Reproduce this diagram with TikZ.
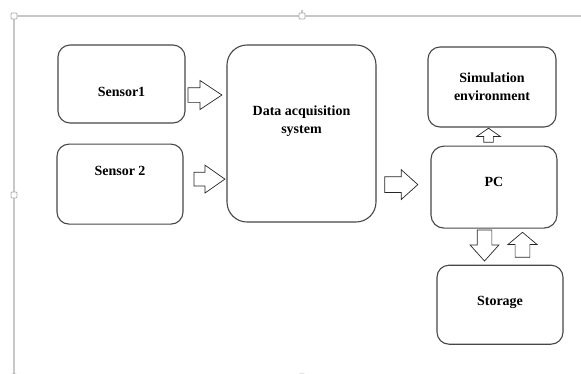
\documentclass[tikz,border=0pt]{standalone}
\usepackage{fontspec}
\setmainfont{Liberation Serif}
\usetikzlibrary{positioning, shapes.arrows}

\tikzset{
	box/.style={draw=black!72, line width=1.1pt, rounded corners=12pt, fill=white,
		minimum width=126pt, minimum height=79pt, inner sep=0pt},
	lbl/.style={font=\fontsize{14}{18}\selectfont\bfseries, align=center},
	blockarrow/.style={single arrow, draw=black!85, line width=0.7pt, fill=white,
		inner xsep=0pt, inner ysep=7pt, anchor=tail},
	frame/.style={draw=black!22, line width=1.2pt},
	handle/.style={draw=black!32, fill=white, line width=0.9pt, minimum size=6pt,
		inner sep=0pt, rounded corners=1pt}
}

\begin{document}
\begin{tikzpicture}[x=1pt, y=-1pt]
	\useasboundingbox (0,0) rectangle (581,373);

	% page frame
	\draw[frame] (14,380) -- (14,16) -- (590,16);
	\draw[frame] (302,10) -- (302,16);
	\node[handle] (h1) at (14,16) {};
	\node[handle] (h2) at (302,16) {};
	\node[handle] (h3) at (14,195) {};
	\node[handle] (h4) at (14,377) {};
	\node[handle] (h5) at (302,377) {};

	% blocks
	\node[box, minimum width=127pt, minimum height=78pt,
		label={[lbl, yshift=-8pt]center:Sensor1}] (s1) at (121.5,84) {};
	\node[box, minimum height=80pt, below=20pt of s1, xshift=-1.5pt,
		label={[lbl, yshift=13pt]center:Sensor 2}] (s2) {};
	\node[box, minimum width=149pt, minimum height=177pt, rounded corners=20pt,
		label={[lbl, yshift=12pt]center:Data acquisition\\system}] (daq) at (301.5,133.5) {};
	\node[box, minimum width=128pt, minimum height=80pt,
		label={[lbl]center:Simulation\\environment}] (sim) at (492,87) {};
	\node[box, minimum height=82pt, below=18pt of sim, xshift=2pt, rounded corners=13pt,
		label={[lbl, yshift=5pt]center:PC}] (pc) {};
	\node[box, below=36pt of pc, xshift=6pt,
		label={[lbl, yshift=2pt]center:Storage}] (sto) {};

	% block arrows
	\node[blockarrow, minimum height=34pt, minimum width=24pt, single arrow tip angle=67]
		(a1) at ([xshift=2pt, yshift=-11pt]s1.east) {};
	\node[blockarrow, minimum height=31pt, minimum width=24pt, inner ysep=6.5pt, single arrow tip angle=70]
		(a2) at ([xshift=10pt, yshift=5pt]s2.east) {};
	\node[blockarrow, minimum height=33pt, minimum width=29pt, inner ysep=7.5pt, single arrow tip angle=84]
		(a3) at ([xshift=-46pt, yshift=2.5pt]pc.west) {};
	\node[blockarrow, rotate=90, minimum height=14pt, minimum width=17pt, inner ysep=4.5pt, single arrow tip angle=110]
		(a4) at ([xshift=-5.5pt, yshift=3pt]pc.north) {};
	\node[blockarrow, rotate=-90, minimum height=31pt, minimum width=25pt, single arrow tip angle=84]
		(a5) at ([xshift=-9.5pt, yshift=-1pt]pc.south) {};
	\node[blockarrow, rotate=90, minimum height=25pt, minimum width=29pt, single arrow tip angle=100]
		(a6) at ([xshift=22.5pt, yshift=7pt]sto.north) {};
\end{tikzpicture}
\end{document}
